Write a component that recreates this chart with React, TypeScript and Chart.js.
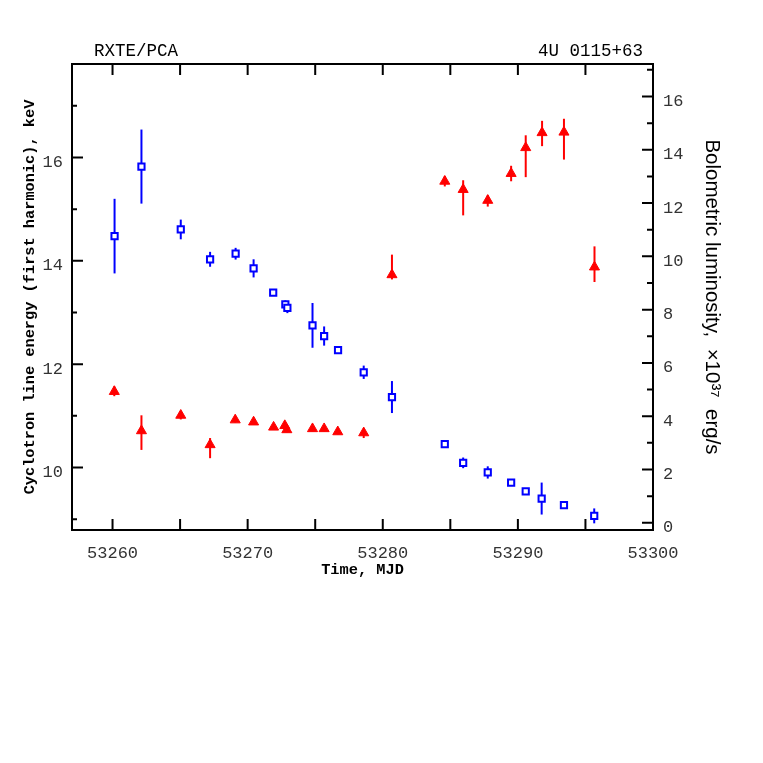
import React, { useEffect, useRef } from "react";
import { Chart, registerables } from "chart.js";

Chart.register(...registerables);

// Cyclotron line energy (left axis, red triangles)
const energyMjd = [53260.13, 53262.14, 53265.05, 53267.22, 53269.08, 53270.44, 53271.92, 53272.75, 53272.9, 53274.8, 53275.66, 53276.67, 53278.59, 53280.68, 53284.59, 53285.95, 53287.77, 53289.5, 53290.58, 53291.79, 53293.41, 53295.67];
const energyKeV = [11.47, 10.71, 11.01, 10.44, 10.92, 10.88, 10.78, 10.81, 10.73, 10.75, 10.75, 10.69, 10.67, 13.73, 15.54, 15.38, 15.17, 15.69, 16.19, 16.48, 16.49, 13.88];
const energyErrHi = [0.1, 0.3, 0.08, 0.13, 0.05, 0.05, 0.05, 0.05, 0.05, 0.05, 0.05, 0.05, 0.05, 0.39, 0.1, 0.18, 0.1, 0.15, 0.24, 0.23, 0.26, 0.4];
const energyErrLo = [0.09, 0.37, 0.08, 0.26, 0.05, 0.05, 0.05, 0.05, 0.05, 0.05, 0.05, 0.05, 0.1, 0.09, 0.1, 0.5, 0.12, 0.15, 0.57, 0.26, 0.53, 0.29];

// Bolometric luminosity (right axis, blue squares), 1e37 erg/s
const lumMjd = [53260.15, 53262.14, 53265.05, 53267.22, 53269.11, 53270.44, 53271.89, 53272.79, 53272.94, 53274.8, 53275.66, 53276.69, 53278.59, 53280.68, 53284.59, 53285.95, 53287.77, 53289.5, 53290.58, 53291.76, 53293.41, 53295.65];
const lumValue = [10.76, 13.37, 11.01, 9.89, 10.1, 9.55, 8.64, 8.2, 8.07, 7.41, 7.01, 6.48, 5.65, 4.72, 2.95, 2.25, 1.89, 1.51, 1.18, 0.91, 0.66, 0.26];
const lumErr = [1.4, 1.39, 0.37, 0.28, 0.22, 0.34, 0.08, 0.15, 0.2, 0.84, 0.36, 0.08, 0.25, 0.6, 0.08, 0.2, 0.23, 0.08, 0.08, 0.6, 0.08, 0.28];

// Tick labels
const xTickValues = [53260, 53270, 53280, 53290, 53300];
const leftTickValues = [10, 12, 14, 16];
const rightTickValues = [0, 2, 4, 6, 8, 10, 12, 14, 16];
// Tick marks (major + minor)
const xTickMarks = [53260, 53265, 53270, 53275, 53280, 53285, 53290, 53295, 53300];
const leftTickMarks = [9, 10, 11, 12, 13, 14, 15, 16, 17];
const rightTickMarks = [0, 1, 2, 3, 4, 5, 6, 7, 8, 9, 10, 11, 12, 13, 14, 15, 16, 17];

const RED = "#ff0000";
const BLUE = "#0000ff";
const MONO = "'Liberation Mono', 'DejaVu Sans Mono', monospace";

const errorBarPlugin = {
  id: "errorBars",
  beforeDatasetsDraw(chart: any) {
    const ctx = chart.ctx;
    const xs = chart.scales.x;
    const groups = [
      { scale: chart.scales.y, mjd: energyMjd, val: energyKeV, lo: energyErrLo, hi: energyErrHi, color: RED },
      { scale: chart.scales.y1, mjd: lumMjd, val: lumValue, lo: lumErr, hi: lumErr, color: BLUE },
    ];
    ctx.save();
    ctx.lineWidth = 2;
    for (const g of groups) {
      ctx.strokeStyle = g.color;
      for (let i = 0; i < g.mjd.length; i++) {
        const px = xs.getPixelForValue(g.mjd[i]);
        const y1 = g.scale.getPixelForValue(g.val[i] + g.hi[i]);
        const y2 = g.scale.getPixelForValue(g.val[i] - g.lo[i]);
        ctx.beginPath();
        ctx.moveTo(px, y1);
        ctx.lineTo(px, y2);
        ctx.stroke();
      }
    }
    ctx.restore();
  },
};

const framePlugin = {
  id: "frameTicks",
  afterDraw(chart: any) {
    const ctx = chart.ctx;
    const { left, right, top, bottom } = chart.chartArea;
    const xs = chart.scales.x;
    const yl = chart.scales.y;
    const yr = chart.scales.y1;
    ctx.save();
    ctx.strokeStyle = "#000";
    ctx.lineWidth = 2;
    ctx.strokeRect(left, top, right - left, bottom - top);
    ctx.beginPath();
    for (const v of xTickMarks) {
      const px = xs.getPixelForValue(v);
      ctx.moveTo(px, bottom);
      ctx.lineTo(px, bottom - 11);
      ctx.moveTo(px, top);
      ctx.lineTo(px, top + 11);
    }
    for (const v of leftTickMarks) {
      const py = yl.getPixelForValue(v);
      const len = v % 2 === 0 ? 11 : 5;
      ctx.moveTo(left, py);
      ctx.lineTo(left + len, py);
    }
    for (const v of rightTickMarks) {
      const py = yr.getPixelForValue(v);
      const len = v % 2 === 0 ? 11 : 6;
      ctx.moveTo(right, py);
      ctx.lineTo(right - len, py);
    }
    ctx.stroke();

    ctx.fillStyle = "#000";
    ctx.font = `17.5px ${MONO}`;
    ctx.textBaseline = "alphabetic";
    ctx.textAlign = "left";
    ctx.fillText("RXTE/PCA", left + 22, 56);
    ctx.textAlign = "right";
    ctx.fillText("4U 0115+63", right - 10, 56);
    ctx.restore();
  },
};

export default function App() {
  const canvasRef = useRef<HTMLCanvasElement | null>(null);

  useEffect(() => {
    const canvas = canvasRef.current;
    if (!canvas) return;
    const tickFont = { family: MONO, size: 17 };
    const chart = new Chart(canvas, {
      type: "scatter",
      data: {
        datasets: [
          {
            label: "Cyclotron energy",
            data: energyMjd.map((x, i) => ({ x, y: energyKeV[i] })),
            yAxisID: "y",
            pointStyle: "triangle",
            pointRadius: 5.8,
            backgroundColor: RED,
            borderColor: RED,
            borderWidth: 1,
          },
          {
            label: "Luminosity",
            data: lumMjd.map((x, i) => ({ x, y: lumValue[i] })),
            yAxisID: "y1",
            pointStyle: "rect",
            pointRadius: 4.4,
            backgroundColor: "#ffffff",
            borderColor: BLUE,
            borderWidth: 2,
          },
        ],
      },
      options: {
        responsive: false,
        animation: false,
        devicePixelRatio: 1,
        layout: { padding: { top: 64, bottom: 183, left: 0, right: 0 } },
        plugins: {
          legend: { display: false },
          tooltip: { enabled: false },
        },
        scales: {
          x: {
            type: "linear",
            position: "bottom",
            min: 53257,
            max: 53300,
            grid: { display: false, drawTicks: false },
            border: { display: false },
            afterBuildTicks: (s: any) => {
              s.ticks = xTickValues.map((v) => ({ value: v }));
            },
            afterFit: (s: any) => {
              s.height = 50;
            },
            ticks: {
              font: tickFont,
              color: "#333",
              padding: 13,
              autoSkip: false,
              maxRotation: 0,
              callback: (v: any) => String(v),
            },
            title: {
              display: true,
              text: "Time, MJD",
              color: "#000",
              font: { family: MONO, size: 15.3, weight: "bold" },
              padding: { top: 0, bottom: 1 },
            },
          },
          y: {
            type: "linear",
            position: "left",
            min: 8.79,
            max: 17.81,
            grid: { display: false, drawTicks: false },
            border: { display: false },
            afterBuildTicks: (s: any) => {
              s.ticks = leftTickValues.map((v) => ({ value: v }));
            },
            afterFit: (s: any) => {
              s.width = 72;
            },
            ticks: {
              font: tickFont,
              color: "#333",
              padding: 9,
              labelOffset: 5,
              autoSkip: false,
              callback: (v: any) => String(v),
            },
            title: {
              display: true,
              text: "Cyclotron line energy (first harmonic), keV",
              color: "#000",
              font: { family: MONO, size: 15.3, weight: "bold" },
              padding: { top: 21, bottom: 0 },
            },
          },
          y1: {
            type: "linear",
            position: "right",
            min: -0.27,
            max: 17.22,
            grid: { display: false, drawTicks: false },
            border: { display: false },
            afterBuildTicks: (s: any) => {
              s.ticks = rightTickValues.map((v) => ({ value: v }));
            },
            afterFit: (s: any) => {
              s.width = 110;
            },
            ticks: {
              font: tickFont,
              color: "#333",
              padding: 10,
              labelOffset: 5,
              autoSkip: false,
              callback: (v: any) => String(v),
            },
            title: {
              display: true,
              text: "Bolometric luminosity,  \u00d710\u00b3\u2077  erg/s",
              color: "#000",
              font: { family: "'Liberation Sans', 'DejaVu Sans', sans-serif", size: 20.5 },
              padding: { top: 39.5, bottom: 0 },
            },
          },
        },
      },
      plugins: [errorBarPlugin, framePlugin],
    } as any);
    return () => chart.destroy();
  }, []);

  return (
    <div style={{ position: "fixed", left: 0, top: 0, width: 763, height: 763, background: "#fff" }}>
      <canvas ref={canvasRef} width={763} height={763} style={{ display: "block" }} />
    </div>
  );
}
